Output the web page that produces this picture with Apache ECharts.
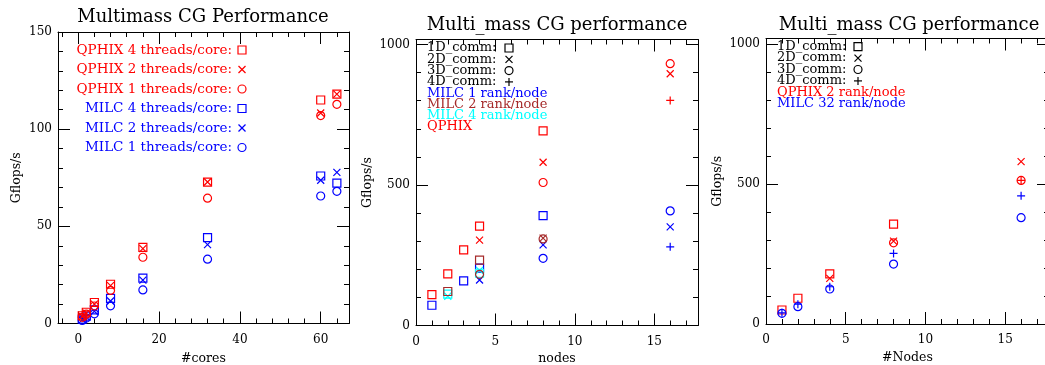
<!DOCTYPE html>
<html><head><meta charset="utf-8">
<script src="https://cdn.jsdelivr.net/npm/echarts@6/dist/echarts.min.js"></script>
<style>html,body{margin:0;padding:0;background:#fff}#c{width:1045px;height:365px}</style>
</head><body><div id="c"></div>
<script>
// ---------- Panel 1 : Multimass CG Performance ----------
const p1Title = 'Multimass CG Performance';
const p1XName = '#cores';
const p1YName = 'Gflops/s';
const p1Legend = ['QPHIX 4 threads/core:', 'QPHIX 2 threads/core:', 'QPHIX 1 threads/core:',
                  'MILC 4 threads/core:', 'MILC 2 threads/core:', 'MILC 1 threads/core:'];
const qphix4t = [[1, 4.0], [2, 5.8], [4, 10.8], [8, 20.2], [16, 39.2], [32, 72.8], [60, 115], [64, 118]];
const qphix2t = [[1, 3.6], [2, 5.3], [4, 10.0], [8, 19.5], [16, 38.5], [32, 72.8], [60, 108.3], [64, 118]];
const qphix1t = [[1, 3.2], [2, 4.8], [4, 9.0], [8, 17.0], [16, 34.1], [32, 64.5], [60, 107], [64, 112.8]];
const milc4t  = [[1, 2.2], [2, 3.8], [4, 7.0], [8, 12.9], [16, 23.3], [32, 44.2], [60, 75.9], [64, 72.2]];
const milc2t  = [[1, 2.0], [2, 3.4], [4, 6.3], [8, 11.6], [16, 22.3], [32, 40.6], [60, 73.7], [64, 77.8]];
const milc1t  = [[1, 1.6], [2, 2.8], [4, 5.0], [8, 9.1], [16, 17.3], [32, 33.1], [60, 65.6], [64, 68.0]];

// ---------- Panel 2 : Multi_mass CG performance (nodes) ----------
const p2Title = 'Multi_mass CG performance';
const p2XName = 'nodes';
const p2YName = 'Gflops/s';
const p2Legend = ['1D_comm:', '2D_comm:', '3D_comm:', '4D_comm:',
                  'MILC 1 rank/node', 'MILC 2 rank/node', 'MILC 4 rank/node', 'QPHIX'];
const p2Milc1_1D = [[1, 72], [3, 159], [4, 204], [8, 391]];
const p2Milc1_2D = [[4, 162], [8, 287], [16, 351]];
const p2Milc1_3D = [[8, 239], [16, 408]];
const p2Milc1_4D = [[16, 280]];
const p2Milc2_1D = [[2, 121], [4, 233]];
const p2Milc2_2D = [[8, 311]];
const p2Milc2_3D = [[4, 182], [8, 308]];
const p2Milc4_1D = [[2, 112], [4, 186]];
const p2Milc4_2D = [[2, 104], [4, 196]];
const p2Qphix_1D = [[1, 110], [2, 184], [3, 269], [4, 354], [8, 693]];
const p2Qphix_2D = [[4, 304], [8, 581], [16, 896]];
const p2Qphix_3D = [[8, 509], [16, 932]];
const p2Qphix_4D = [[16, 801]];

// ---------- Panel 3 : Multi_mass CG performance (#Nodes) ----------
const p3Title = 'Multi_mass CG performance';
const p3XName = '#Nodes';
const p3YName = 'Gflops/s';
const p3Legend = ['1D_comm:', '2D_comm:', '3D_comm:', '4D_comm:', 'QPHIX 2 rank/node', 'MILC 32 rank/node'];
const p3Qphix_1D = [[1, 50], [2, 92], [4, 179], [8, 357]];
const p3Qphix_2D = [[4, 163], [8, 296], [16, 580]];
const p3Qphix_3D = [[8, 290], [16, 513]];
const p3Qphix_4D = [[16, 513]];
const p3Milc_3D = [[1, 38], [2, 62], [4, 125], [8, 214], [16, 380]];
const p3Milc_4D = [[1, 40], [2, 71], [4, 133], [8, 252], [16, 458]];

// ---------- tick scales: [min, max, interval] ----------
const p1XMajorTicks = [0, 60, 20];
const p1XMinorTicks = [-4, 64, 4];
const p1YMajorTicks = [0, 150, 50];
const p1YMinorTicks = [0, 150, 10];
const nXMajorTicks = [0, 15, 5];
const nXMinorTicks = [0, 17, 1];
const nYMajorTicks = [0, 1000, 500];
const nYMinorTicks = [0, 1000, 100];

// ---------- styling ----------
const FONT = 'DejaVu Serif';
const RED = '#ff0000', BLUE = '#0000ff', BROWN = '#a52a2a', CYAN = '#00ffff', BLACK = '#000000';
const SYM = { sq: 'rect', x: 'path://M0,0L10,10M10,0L0,10', o: 'circle', p: 'path://M5,0L5,10M0,5L10,5' };
const SYMSIZE = { sq: 8, x: 7, o: 8, p: 8 };

const panels = [
  { left: 58, top: 32, width: 291, height: 291.5, xmin: -5, xmax: 67, ymax: 150,
    xMaj: p1XMajorTicks, xMin: p1XMinorTicks, yMaj: p1YMajorTicks, yMin: p1YMinorTicks,
    xname: p1XName, yname: p1YName, xgap: 29, ygap: 35, title: p1Title, titleX: 203, titleY: 8 },
  { left: 416, top: 39.5, width: 282, height: 286, xmin: 0, xmax: 17.75, ymax: 1018,
    xMaj: nXMajorTicks, xMin: nXMinorTicks, yMaj: nYMajorTicks, yMin: nYMinorTicks,
    xname: p2XName, yname: p2YName, xgap: 27, ygap: 42, title: p2Title, titleX: 557, titleY: 16 },
  { left: 766, top: 38.5, width: 283, height: 285.5, xmin: 0, xmax: 17.75, ymax: 1020,
    xMaj: nXMajorTicks, xMin: nXMinorTicks, yMaj: nYMajorTicks, yMin: nYMinorTicks,
    xname: p3XName, yname: p3YName, xgap: 27, ygap: 42, title: p3Title, titleX: 909, titleY: 16 }
];

function pxX(P, v) { return P.left + (v - P.xmin) / (P.xmax - P.xmin) * P.width; }
function pxY(P, v) { return P.top + P.height - v / P.ymax * P.height; }

const grids = [], xAxes = [], yAxes = [], titles = [];
const mainX = [], mainY = [];
const tickLine = { color: BLACK, width: 1 };
const labelStyle = { fontFamily: FONT, fontSize: 12, color: BLACK, formatter: v => String(v) };
const nameStyle = { fontFamily: FONT, fontSize: 12.5, color: BLACK };
const hiddenAxis = g => ({ type: 'value', gridIndex: g, show: false, min: 0, max: 1,
  axisLine: { show: false, onZero: false } });
function mkGrid(left, top, width, height) {
  return { left: left, top: top, width: width, height: height, containLabel: false, outerBoundsMode: 'none' };
}

panels.forEach((P, i) => {
  titles.push({ text: P.title, left: P.titleX, top: P.titleY, textAlign: 'center', padding: 0,
    textStyle: { fontFamily: FONT, fontSize: 18, fontWeight: 'normal', color: BLACK } });

  // main grid: frame lines + axis names + data
  let g = grids.length;
  grids.push(mkGrid(P.left, P.top, P.width, P.height));
  mainX.push(xAxes.length);
  xAxes.push({ type: 'value', gridIndex: g, position: 'bottom', min: P.xmin, max: P.xmax,
    name: P.xname, nameLocation: 'middle', nameGap: P.xgap, nameTextStyle: nameStyle,
    axisLine: { show: true, onZero: false, lineStyle: tickLine },
    axisTick: { show: false }, axisLabel: { show: false }, splitLine: { show: false } });
  xAxes.push({ type: 'value', gridIndex: g, position: 'top', min: P.xmin, max: P.xmax,
    axisLine: { show: true, onZero: false, lineStyle: tickLine },
    axisTick: { show: false }, axisLabel: { show: false }, splitLine: { show: false } });
  mainY.push(yAxes.length);
  yAxes.push({ type: 'value', gridIndex: g, position: 'left', min: 0, max: P.ymax,
    name: P.yname, nameLocation: 'middle', nameGap: P.ygap, nameTextStyle: nameStyle,
    axisLine: { show: true, onZero: false, lineStyle: tickLine },
    axisTick: { show: false }, axisLabel: { show: false }, splitLine: { show: false } });
  yAxes.push({ type: 'value', gridIndex: g, position: 'right', min: 0, max: P.ymax,
    axisLine: { show: true, onZero: false, lineStyle: tickLine },
    axisTick: { show: false }, axisLabel: { show: false }, splitLine: { show: false } });

  // x tick overlays (major with labels, minor)
  [[P.xMaj, 12, true], [P.xMin, 5, false]].forEach(([t, len, lab]) => {
    const gi = grids.length;
    grids.push(mkGrid(pxX(P, t[0]), P.top, pxX(P, t[1]) - pxX(P, t[0]), P.height));
    ['bottom', 'top'].forEach(pos => {
      xAxes.push({ type: 'value', gridIndex: gi, position: pos, min: t[0], max: t[1], interval: t[2],
        axisLine: { show: false, onZero: false }, splitLine: { show: false },
        axisTick: { show: true, inside: true, length: len, lineStyle: tickLine },
        axisLabel: Object.assign({ show: lab && pos === 'bottom', margin: 10 }, labelStyle) });
    });
    yAxes.push(hiddenAxis(gi));
  });
  // y tick overlays
  [[P.yMaj, 12, true], [P.yMin, 5, false]].forEach(([t, len, lab]) => {
    const gi = grids.length;
    grids.push(mkGrid(P.left, pxY(P, t[1]), P.width, pxY(P, t[0]) - pxY(P, t[1])));
    ['left', 'right'].forEach(pos => {
      yAxes.push({ type: 'value', gridIndex: gi, position: pos, min: t[0], max: t[1], interval: t[2],
        axisLine: { show: false, onZero: false }, splitLine: { show: false },
        axisTick: { show: true, inside: true, length: len, lineStyle: tickLine },
        axisLabel: Object.assign({ show: lab && pos === 'left', margin: 6 }, labelStyle) });
    });
    xAxes.push(hiddenAxis(gi));
  });
});

function sc(panel, name, data, color, kind) {
  return { type: 'scatter', name: name, data: data,
    xAxisIndex: mainX[panel], yAxisIndex: mainY[panel],
    symbol: SYM[kind], symbolSize: SYMSIZE[kind], z: 5, silent: true,
    itemStyle: { color: 'rgba(0,0,0,0)', borderColor: color, borderWidth: 1.2, opacity: 1 } };
}
const series = [
  sc(0, p1Legend[5], milc1t, BLUE, 'o'),
  sc(0, p1Legend[4], milc2t, BLUE, 'x'),
  sc(0, p1Legend[3], milc4t, BLUE, 'sq'),
  sc(0, p1Legend[2], qphix1t, RED, 'o'),
  sc(0, p1Legend[1], qphix2t, RED, 'x'),
  sc(0, p1Legend[0], qphix4t, RED, 'sq'),

  sc(1, 'MILC 1 rank/node 1D', p2Milc1_1D, BLUE, 'sq'),
  sc(1, 'MILC 1 rank/node 2D', p2Milc1_2D, BLUE, 'x'),
  sc(1, 'MILC 1 rank/node 3D', p2Milc1_3D, BLUE, 'o'),
  sc(1, 'MILC 1 rank/node 4D', p2Milc1_4D, BLUE, 'p'),
  sc(1, 'MILC 4 rank/node 1D', p2Milc4_1D, CYAN, 'sq'),
  sc(1, 'MILC 4 rank/node 2D', p2Milc4_2D, CYAN, 'x'),
  sc(1, 'MILC 2 rank/node 1D', p2Milc2_1D, BROWN, 'sq'),
  sc(1, 'MILC 2 rank/node 2D', p2Milc2_2D, BROWN, 'x'),
  sc(1, 'MILC 2 rank/node 3D', p2Milc2_3D, BROWN, 'o'),
  sc(1, 'QPHIX 1D', p2Qphix_1D, RED, 'sq'),
  sc(1, 'QPHIX 2D', p2Qphix_2D, RED, 'x'),
  sc(1, 'QPHIX 3D', p2Qphix_3D, RED, 'o'),
  sc(1, 'QPHIX 4D', p2Qphix_4D, RED, 'p'),

  sc(2, 'QPHIX 2 rank/node 1D', p3Qphix_1D, RED, 'sq'),
  sc(2, 'QPHIX 2 rank/node 2D', p3Qphix_2D, RED, 'x'),
  sc(2, 'QPHIX 2 rank/node 3D', p3Qphix_3D, RED, 'o'),
  sc(2, 'QPHIX 2 rank/node 4D', p3Qphix_4D, RED, 'p'),
  sc(2, 'MILC 32 rank/node 3D', p3Milc_3D, BLUE, 'o'),
  sc(2, 'MILC 32 rank/node 4D', p3Milc_4D, BLUE, 'p')
];

// ---------- legends (graphic text + glyphs) ----------
function glyph(kind, cx, cy, color) {
  const st = { fill: 'none', stroke: color, lineWidth: 1.2 };
  if (kind === 'sq') return { type: 'rect', shape: { x: cx - 4, y: cy - 4, width: 8, height: 8 }, style: st };
  if (kind === 'o') return { type: 'circle', shape: { cx: cx, cy: cy, r: 4 }, style: st };
  if (kind === 'x') return { type: 'group', children: [
    { type: 'line', shape: { x1: cx - 3.5, y1: cy - 3.5, x2: cx + 3.5, y2: cy + 3.5 }, style: st },
    { type: 'line', shape: { x1: cx + 3.5, y1: cy - 3.5, x2: cx - 3.5, y2: cy + 3.5 }, style: st }] };
  return { type: 'group', children: [
    { type: 'line', shape: { x1: cx, y1: cy - 4, x2: cx, y2: cy + 4 }, style: st },
    { type: 'line', shape: { x1: cx - 4, y1: cy, x2: cx + 4, y2: cy }, style: st }] };
}
function txt(s, x, y, color, size, align) {
  return { type: 'text', x: x, y: y, z: 10, style: { text: s, fill: color, font: size + 'px "' + FONT + '"',
    textAlign: align, textVerticalAlign: 'middle' } };
}
const graphic = [];
const p1Rows = [50, 69.5, 89, 108.5, 128, 147.5];
const p1Cols = [RED, RED, RED, BLUE, BLUE, BLUE];
const p1Kinds = ['sq', 'x', 'o', 'sq', 'x', 'o'];
p1Legend.forEach((s, i) => {
  graphic.push(txt(s, 232, p1Rows[i], p1Cols[i], 13.5, 'right'));
  graphic.push(glyph(p1Kinds[i], 242, p1Rows[i], p1Cols[i]));
});
const commKinds = ['sq', 'x', 'o', 'p'];
const p2Cols = [BLACK, BLACK, BLACK, BLACK, BLUE, BROWN, CYAN, RED];
p2Legend.forEach((s, i) => {
  const y = 48 + i * 11.3;
  graphic.push(txt(s, 427, y, p2Cols[i], 13, 'left'));
  if (i < 4) graphic.push(glyph(commKinds[i], 509, y, BLACK));
});
const p3Cols = [BLACK, BLACK, BLACK, BLACK, RED, BLUE];
p3Legend.forEach((s, i) => {
  const y = 46.7 + i * 11.4;
  graphic.push(txt(s, 777, y, p3Cols[i], 13, 'left'));
  if (i < 4) graphic.push(glyph(commKinds[i], 858, y, BLACK));
});

const chart = echarts.init(document.getElementById('c'), null, { renderer: 'canvas' });
chart.setOption({
  animation: false,
  backgroundColor: '#ffffff',
  title: titles,
  grid: grids,
  xAxis: xAxes,
  yAxis: yAxes,
  series: series,
  graphic: graphic
});
</script></body></html>
